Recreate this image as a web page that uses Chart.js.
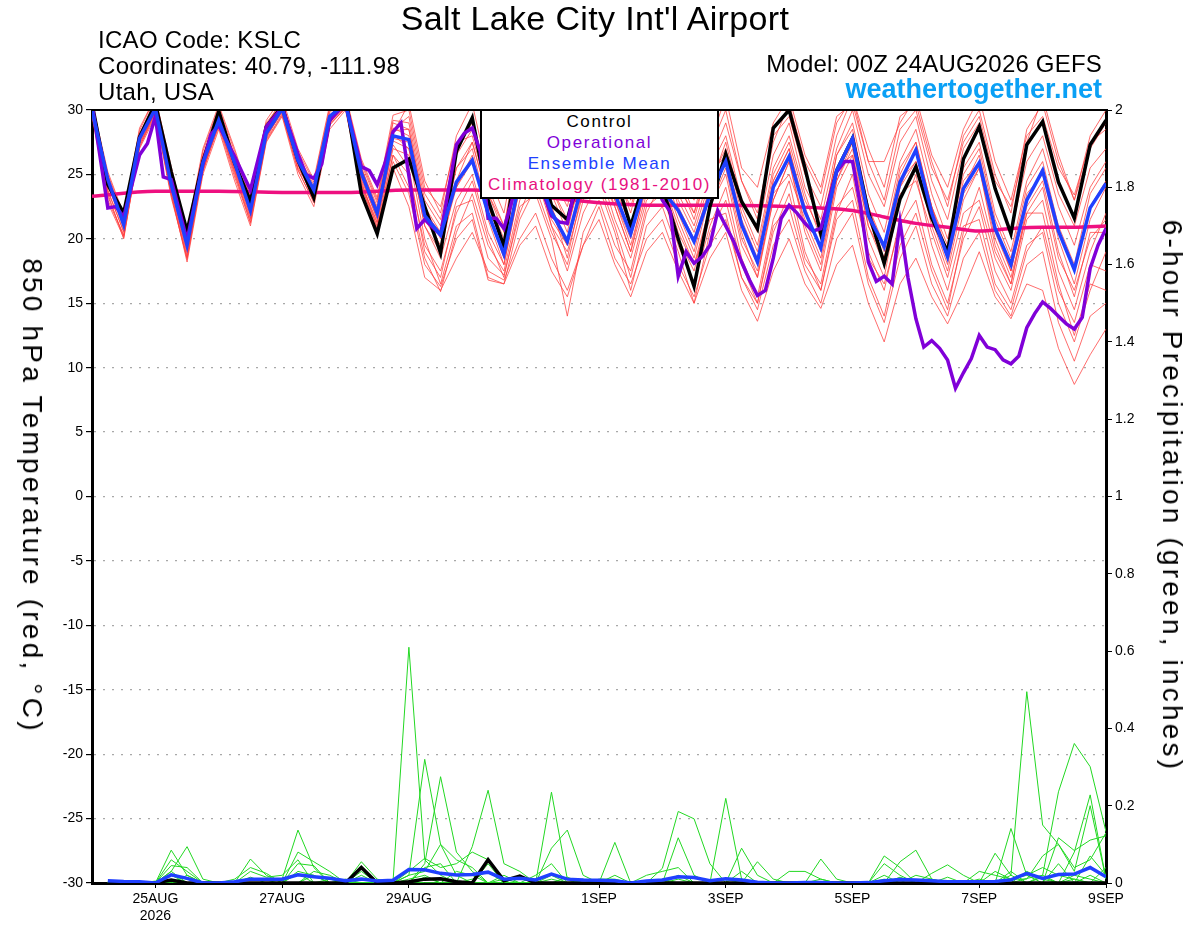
<!DOCTYPE html>
<html>
<head>
<meta charset="utf-8">
<script src="https://cdn.jsdelivr.net/npm/chart.js@4.4.1/dist/chart.umd.min.js"></script>
<style>
  body { margin: 0; background: #fff; }
  #wrap { position: relative; width: 1200px; height: 927px; font-family: "Liberation Sans", Arial, sans-serif; }
  #wrap div.txt { position: absolute; white-space: nowrap; line-height: 1; color: #000; }
  #legendBox {
    position: absolute; left: 480px; top: 109px; width: 239px; height: 90px;
    box-sizing: border-box; border: 2px solid #000; background: #fff;
    text-align: center; font-size: 17px; line-height: 21px; letter-spacing: 1.6px;
  }
  .rot { position: absolute; white-space: nowrap; font-size: 28px; line-height: 1; letter-spacing: 3.2px;
         transform: translate(-50%, -50%) rotate(90deg); }
</style>
</head>
<body>
<div id="wrap">
  <canvas id="myChart" width="1200" height="927"></canvas>
  <div class="txt" style="left:345px;width:500px;text-align:center;top:1px;font-size:34px;letter-spacing:0.35px;">Salt Lake City Int'l Airport</div>
  <div class="txt" style="left:98px;top:28px;font-size:24px;letter-spacing:0.3px;">ICAO Code: KSLC</div>
  <div class="txt" style="left:98px;top:54px;font-size:24px;letter-spacing:0.3px;">Coordinates: 40.79, -111.98</div>
  <div class="txt" style="left:98px;top:80px;font-size:24px;letter-spacing:0.3px;">Utah, USA</div>
  <div class="txt" style="right:98px;top:52px;font-size:24px;text-align:right;letter-spacing:0.2px;">Model: 00Z 24AUG2026 GEFS</div>
  <div class="txt" style="right:98px;top:76px;font-size:27px;font-weight:bold;color:#0aa0f5;text-align:right;">weathertogether.net</div>
  <div class="rot" style="left:32px;top:496px;">850 hPa Temperature (red, °C)</div>
  <div class="rot" style="left:1172px;top:496px;">6-hour Precipitation (green, inches)</div>
  <div id="legendBox">
    <div style="color:#000">Control</div>
    <div style="color:#8000d8">Operational</div>
    <div style="color:#2040ff">Ensemble Mean</div>
    <div style="color:#e8107f">Climatology (1981-2010)</div>
  </div>
</div>
<script>
// forecast hours from 00Z 24AUG2026, every 6 h
const forecastHours = [0,6,12,18,24,30,36,42,48,54,60,66,72,78,84,90,96,102,108,114,120,126,132,138,144,150,156,162,168,174,180,186,192,198,204,210,216,222,228,234,240,246,252,258,264,270,276,282,288,294,300,306,312,318,324,330,336,342,348,354,360,366,372,378,384];

const tickHours = [24, 72, 120, 192, 240, 288, 336, 384];
const tickLabels = [["25AUG", "2026"], "27AUG", "29AUG", "1SEP", "3SEP", "5SEP", "7SEP", "9SEP"];

// 850 hPa temperature (C)
const controlTemp = [30.5,24.2,22.0,27.9, 30.5,25.2,20.6,26.0, 29.9,25.9,22.9,28.7, 30.3,26.1,23.2,29.2, 31.0,23.5,20.4,25.5, 26.2,22.5,18.9,26.8, 29.4,23.0,19.4,28.0, 27.0,22.6,21.5,26.0, 27.0,25.0,21.0,25.0, 24.0,20.0,16.3,22.5, 26.6,22.9,20.8,28.6, 30.0,25.5,20.4,25.3, 27.8,22.1,18.1,23.1, 25.6,21.6,19.0,26.2, 28.7,23.9,20.4,27.3, 29.1,24.4,21.6,27.3, 29.2];
const meanTemp = [30.0,24.6,21.1,27.8, 30.1,24.2,19.5,25.9, 29.2,25.9,22.2,28.2, 30.1,26.1,23.8,29.5, 30.5,25.1,22.0,28.0, 27.7,21.8,20.3,24.4, 26.1,22.0,18.8,24.5, 25.5,22.1,19.8,24.5, 25.5,23.5,20.4,24.5, 23.8,22.2,19.8,23.4, 26.0,21.1,18.2,24.0, 26.4,22.1,19.3,25.3, 27.8,21.8,19.4,24.4, 26.9,22.0,18.6,23.9, 25.9,20.8,18.0,23.0, 25.3,20.6,17.6,22.4, 24.3];

const opHours = [0,6,9,12,18,21,24,27,30,36,42,45,48,54,60,66,72,78,81,84,87,90,96,102,105,108,111,114,117,123,126,132,138,141,144,147,150,153,156,159,162,168,171,174,177,180,183,186,192,198,204,210,216,219,222,225,228,231,234,237,240,243,246,249,252,255,258,261,264,267,270,273,276,279,282,285,288,291,294,297,300,303,306,309,312,315,318,321,324,327,330,333,336,339,342,345,348,351,354,357,360,363,366,369,372,375,378,381,384];
const opTemp = [30.5,22.4,22.5,21.7,26.5,27.4,29.5,24.8,24.6,19.9,25.8,28.1,28.8,26.4,23.8,28.7,30.2,26.6,25.0,24.7,25.8,29.2,30.5,25.6,25.3,24.2,25.9,28.3,29.0,20.8,21.5,20.3,27.3,28.2,28.6,26.8,21.6,21.6,20.8,22.9,26.0,27.0,23.5,21.8,21.3,21.2,24.0,26.0,27.0,26.0,27.0,26.0,23.0,22.1,17.1,19.0,18.1,18.6,19.5,22.2,21.0,19.8,18.2,16.8,15.6,16.0,18.5,21.6,22.6,22.0,21.2,20.6,20.8,23.0,25.2,26.0,26.0,22.6,18.2,16.7,17.1,16.5,21.3,17.0,13.8,11.6,12.1,11.5,10.6,8.4,9.6,10.7,12.5,11.6,11.4,10.6,10.3,10.9,13.1,14.2,15.1,14.6,14.0,13.4,13.0,13.9,17.7,19.5,20.8];

const climHours = [0,24,48,72,96,120,144,168,192,216,240,264,276,288,300,312,324,336,348,360,372,384];
const climTemp = [23.3,23.7,23.7,23.6,23.6,23.8,23.8,23.3,22.8,22.6,22.6,22.5,22.4,22.2,21.7,21.2,20.9,20.6,20.8,20.9,20.9,21.0];

// ensemble members, 850 hPa temperature
const member01 = [30.5,24.0,21.5,28.0, 30.8,25.0,20.0,26.5, 30.0,26.5,22.5,28.8, 30.8,26.5,24.0,30.0, 31.0,25.5,22.5,28.5, 29.5,23.5,21.5,27.0, 29.0,24.0,21.0,27.5, 29.5,25.0,22.5,27.5, 28.5,25.5,22.0,27.0, 28.5,24.5,21.5,26.0, 29.0,24.5,21.5,27.5, 30.5,26.0,23.5,29.0, 31.0,27.0,24.0,29.5, 30.5,26.0,22.5,28.0, 30.0,25.0,22.0,28.5, 30.5,26.0,23.0,28.0, 30.0];
const member02 = [29.5,23.0,20.3,27.0, 29.5,23.5,18.2,25.0, 28.5,24.5,21.0,27.5, 29.5,25.0,22.5,28.5, 30.0,24.0,21.0,25.5, 22.5,17.0,16.0,18.5, 20.5,17.5,16.8,20.0, 22.0,18.5,16.0,19.5, 21.5,18.0,15.5,19.0, 20.5,17.5,15.0,18.5, 20.5,16.0,13.6,17.5, 20.0,16.5,14.6,18.0, 19.5,15.0,12.0,16.5, 18.5,15.5,13.4,16.0, 19.0,15.5,13.8,16.5, 16.0,11.5,8.7,11.0, 13.0];
const member03 = [30.0,23.8,20.5,27.5, 29.8,24.0,19.0,25.5, 29.0,25.0,21.5,27.8, 30.0,25.8,23.0,29.0, 30.2,24.5,20.8,26.5, 25.0,19.5,17.5,22.0, 24.5,20.0,17.0,22.5, 23.5,20.0,14.0,20.5, 23.0,19.5,17.5,22.5, 23.5,19.5,16.5,21.0, 24.0,18.5,15.5,21.5, 24.5,19.0,16.0,22.0, 25.0,18.5,16.5,21.0, 23.0,18.0,15.0,20.0, 22.5,17.5,15.0,19.5, 20.5,15.0,12.0,16.0, 19.0];
const member04 = [30.2,24.8,21.3,28.2, 30.5,24.5,19.8,26.2, 29.5,26.0,22.0,28.5, 30.5,26.5,24.2,29.8, 31.0,25.8,22.8,29.0, 28.5,22.5,20.5,25.5, 27.5,23.0,19.5,25.5, 27.0,23.5,20.5,26.0, 27.5,24.0,21.0,25.5, 26.0,23.0,20.5,24.5, 27.0,22.0,19.0,25.0, 27.5,23.0,20.5,26.5, 29.0,23.5,20.5,26.0, 28.5,23.5,20.0,25.5, 27.5,22.0,19.0,24.5, 27.0,22.5,19.5,24.0, 26.0];
const member05 = [30.0,24.5,21.0,27.6, 30.0,24.0,19.2,26.0, 29.3,26.2,22.4,28.4, 30.2,26.3,23.5,29.6, 30.8,25.3,22.2,28.2, 30.5,24.5,22.0,28.0, 30.5,25.0,22.0,28.5, 31.0,26.0,24.0,29.0, 30.0,26.5,23.0,28.0, 29.5,25.0,23.0,27.5, 31.0,25.5,24.0,29.0, 31.0,26.5,24.0,29.5, 30.5,26.0,26.0,29.0, 31.0,26.5,24.0,28.5, 31.0,26.0,23.0,28.0, 29.5,25.5,23.4,27.5, 28.5];
const member06 = [29.8,24.2,20.8,27.8, 29.8,23.8,18.8,25.2, 29.0,25.5,21.8,28.0, 29.8,25.5,23.5,29.0, 30.5,24.8,21.5,27.0, 26.5,20.0,16.5,21.0, 22.0,17.0,16.5,21.5, 24.0,20.5,18.0,23.0, 25.5,21.5,18.5,23.0, 24.0,20.0,17.5,22.5, 25.0,19.5,17.0,23.0, 26.0,20.5,17.5,24.0, 26.5,20.0,17.0,23.5, 24.5,20.5,17.0,22.0, 23.0,18.5,16.0,21.5, 23.0,17.5,14.5,19.0, 22.0];
const member07 = [30.3,24.6,21.6,28.0, 30.3,24.6,19.9,26.4, 29.6,25.6,22.6,28.5, 30.0,26.0,23.6,29.2, 30.6,25.6,21.9,28.6, 28.0,22.0,20.5,24.0, 26.0,22.5,19.5,26.0, 28.0,24.0,21.0,25.0, 26.5,23.0,19.5,24.0, 25.0,21.5,18.5,23.5, 26.5,21.0,18.0,24.5, 27.0,22.5,19.0,25.0, 28.0,22.5,19.5,25.5, 27.5,22.5,18.5,24.0, 26.5,21.0,17.5,23.5, 25.0,20.0,16.5,21.5, 24.0];
const member08 = [29.6,23.5,20.0,27.2, 29.6,23.2,18.5,25.5, 28.8,25.2,21.2,27.6, 29.6,25.4,22.8,28.8, 30.2,24.2,21.2,26.5, 24.0,18.5,15.9,20.5, 23.5,19.5,17.5,23.0, 26.0,21.0,19.0,23.5, 24.0,20.5,16.0,21.0, 22.5,19.0,15.0,20.5, 23.0,18.0,15.0,21.0, 22.5,18.0,16.0,21.5, 23.0,17.0,14.0,19.5, 22.0,17.5,14.5,20.5, 24.0,19.0,16.5,22.0, 22.0,16.5,12.5,16.5, 16.0];
const member09 = [30.4,25.0,21.8,28.4, 31.0,25.2,20.4,26.8, 30.2,26.8,23.0,29.0, 30.6,26.8,24.4,30.2, 31.0,26.0,23.0,29.2, 29.0,23.0,21.0,26.5, 28.5,23.5,20.5,27.0, 28.5,24.0,21.5,26.5, 29.0,25.0,22.5,26.5, 27.5,24.0,22.0,25.5, 28.0,23.0,20.5,26.5, 29.0,24.0,21.5,27.0, 30.0,25.0,22.5,27.5, 29.5,24.5,21.5,27.0, 29.0,24.0,20.5,26.0, 28.0,23.5,21.0,25.5, 27.0];
const member10 = [29.9,23.3,20.2,27.3, 29.9,24.4,19.4,25.7, 29.4,25.4,21.9,28.1, 30.1,26.1,23.3,29.4, 30.4,24.6,21.6,27.6, 27.0,21.0,18.5,23.0, 25.0,20.5,18.0,24.0, 25.0,21.5,19.5,24.0, 26.0,22.5,19.0,24.5, 27.0,22.5,20.0,24.0, 26.0,20.5,17.0,23.5, 25.0,21.5,18.5,24.5, 27.0,21.0,18.0,24.0, 26.0,21.0,17.5,23.0, 25.5,19.5,16.5,22.5, 24.5,19.0,15.5,20.5, 20.5];
const member11 = [30.1,24.9,21.4,28.0, 30.3,24.9,19.6,26.1, 29.8,26.0,22.3,28.3, 30.3,26.2,23.9,29.6, 30.7,25.4,22.3,28.4, 28.5,22.5,20.0,25.5, 27.0,22.0,18.5,25.0, 26.5,22.5,19.5,25.0, 26.5,23.5,20.5,25.5, 25.5,22.0,19.0,24.0, 27.5,22.5,19.5,25.5, 28.0,23.5,20.0,26.5, 28.5,22.5,19.0,25.0, 27.5,22.5,19.5,25.0, 27.0,21.5,18.5,24.0, 26.0,21.0,18.0,23.5, 25.5];
const member12 = [29.7,23.7,20.6,27.4, 29.7,23.6,18.6,25.3, 28.9,25.3,21.6,27.9, 29.9,25.7,23.1,29.1, 30.3,24.3,21.3,27.3, 25.5,19.0,17.0,22.5, 23.0,18.5,17.2,22.0, 25.0,21.0,17.5,22.0, 24.5,21.0,17.0,22.0, 24.5,20.5,18.0,21.5, 22.0,17.0,15.0,20.5, 23.5,18.5,16.5,22.5, 24.0,19.0,16.0,21.5, 25.0,19.5,16.0,21.0, 21.5,16.5,14.5,19.0, 21.0,16.0,13.5,18.0, 17.5];
const member13 = [30.6,25.2,21.9,28.6, 31.0,25.6,20.6,27.0, 30.4,27.0,23.2,29.2, 31.0,27.0,24.6,30.4, 31.2,26.2,23.2,29.6, 30.0,24.0,22.5,27.5, 28.0,23.5,21.0,26.5, 30.0,25.5,23.0,28.5, 29.5,26.0,23.5,28.5, 29.0,25.0,22.0,27.0, 30.0,24.5,22.0,28.0, 29.5,25.0,22.5,28.0, 31.0,26.0,23.0,28.5, 30.0,25.5,23.0,27.5, 29.5,24.5,22.5,27.5, 31.0,26.5,23.0,27.0, 29.0];
const member14 = [30.0,24.3,21.0,27.7, 30.1,24.1,19.3,25.8, 29.1,25.7,22.0,28.1, 30.0,25.9,23.6,29.3, 30.4,25.0,21.8,27.8, 27.5,21.5,19.5,24.0, 26.5,21.5,18.0,24.0, 26.0,22.0,19.5,24.5, 25.0,22.5,19.0,23.5, 24.5,21.0,18.0,22.5, 25.5,20.0,17.5,23.0, 26.0,21.0,18.0,24.5, 27.5,21.5,18.5,24.5, 26.0,21.5,18.0,23.5, 25.5,20.0,17.0,22.0, 24.0,18.5,16.0,20.0, 21.5];
const member15 = [30.2,24.4,21.2,27.9, 30.2,24.3,19.6,26.0, 29.3,25.8,22.2,28.3, 30.2,26.0,23.7,29.4, 30.5,25.2,22.0,28.1, 27.0,21.0,19.0,24.5, 27.5,23.0,20.0,26.0, 27.0,22.5,18.5,24.0, 26.0,23.0,20.0,25.0, 27.0,23.5,21.0,25.0, 26.5,21.5,18.5,24.5, 27.0,22.0,19.5,25.5, 26.5,21.0,18.5,24.0, 27.0,22.5,19.0,24.5, 26.0,20.5,17.5,23.0, 25.5,20.5,17.5,22.5, 24.5];
const member16 = [29.8,22.8,20.1,27.1, 29.9,23.4,18.4,25.3, 28.7,24.8,21.3,27.7, 29.7,25.3,22.9,28.9, 30.1,24.1,20.6,26.0, 23.5,18.0,16.3,20.0, 21.5,16.8,16.5,19.5, 21.0,17.5,15.5,19.5, 22.5,18.5,16.5,20.0, 21.5,18.0,15.5,19.5, 21.5,17.0,14.5,19.5, 21.5,17.5,15.0,20.0, 22.0,16.5,13.5,18.5, 21.0,16.5,14.0,18.5, 20.5,16.0,14.0,18.0, 19.0,13.5,10.5,14.0, 15.0];
const tempMembers = [member01, member02, member03, member04, member05, member06, member07, member08,
                     member09, member10, member11, member12, member13, member14, member15, member16];

// 6-hour precipitation (inches)
const controlPrecip = [null, 0,0,0,0, 0.008,0,0,0, 0,0,0,0, 0,0,0,0, 0.04,0,0,0.003, 0.01,0.011,0.003,0, 0.06,0.006,0.018,0, 0,0,0,0, 0,0,0,0, 0,0,0,0, 0,0,0,0, 0,0,0,0, 0,0,0,0, 0,0,0,0, 0,0,0,0, 0,0,0,0];
const meanPrecip = [null, 0.006,0.004,0.003,0, 0.021,0.012,0,0, 0.003,0.01,0.01,0.01, 0.021,0.016,0.012,0.006, 0.01,0.005,0.007,0.035, 0.034,0.025,0.021,0.022, 0.028,0.01,0.012,0.008, 0.023,0.01,0.008,0.007, 0.006,0,0.005,0.008, 0.016,0.014,0.006,0.011, 0.008,0.002,0,0, 0.001,0.001,0,0, 0.001,0.006,0.009,0.008, 0.006,0.003,0.003,0.003, 0.004,0.008,0.025,0.012, 0.022,0.023,0.04,0.016];

const precip01 = [null, 0,0,0,0, 0.085,0.02,0,0, 0,0,0,0.01, 0.137,0.04,0,0, 0,0,0.005,0.61, 0.06,0.02,0,0, 0,0,0,0, 0,0,0,0, 0.105,0,0,0, 0,0,0,0, 0,0,0,0, 0,0,0,0, 0,0,0,0, 0,0,0,0, 0,0.02,0.495,0.15, 0.10,0.04,0.06,0.13];
const precip02 = [null, 0,0,0,0, 0.03,0.094,0.01,0, 0,0.062,0.02,0, 0,0,0,0, 0,0,0,0.02, 0.32,0.1,0.02,0, 0,0,0,0, 0,0,0,0, 0,0,0,0.038, 0.185,0.166,0.05,0, 0,0,0,0, 0,0,0,0, 0,0,0,0, 0,0,0,0, 0,0,0,0.02, 0.236,0.361,0.301,0.133];
const precip03 = [null, 0,0,0,0, 0.06,0.03,0,0, 0,0,0,0, 0.08,0.055,0.03,0, 0,0,0,0, 0.05,0.275,0.08,0.03, 0,0,0,0, 0.235,0.01,0,0, 0,0,0,0, 0,0,0,0.219, 0.01,0,0,0, 0,0,0,0, 0,0,0,0, 0,0,0,0, 0.077,0.02,0,0, 0,0.08,0.228,0.01];
const precip04 = [null, 0,0,0,0, 0,0,0,0, 0.01,0.04,0.025,0, 0,0,0,0, 0.055,0.01,0,0, 0,0,0,0.094, 0.24,0.05,0.03,0, 0.09,0.137,0.02,0, 0,0,0,0, 0.117,0.02,0,0, 0.09,0.02,0,0, 0,0,0,0, 0,0.07,0.04,0, 0,0,0,0, 0,0.141,0.02,0, 0.117,0.084,0.111,0.122];
const precip05 = [null, 0,0,0,0, 0.045,0.04,0,0, 0,0,0,0, 0.05,0.045,0,0, 0,0,0,0.03, 0.064,0.04,0.05,0.08, 0.06,0,0,0, 0,0,0,0.01, 0.01,0,0,0, 0,0,0,0, 0,0.055,0.01,0, 0,0.062,0.01,0, 0,0,0.055,0.085, 0.01,0,0,0.03, 0.02,0.01,0.01,0.07, 0.1,0.03,0.2,0.01];
const precip06 = [null, 0,0,0,0, 0.03,0,0,0, 0,0.03,0.015,0.02, 0.06,0,0,0.01, 0,0,0,0.02, 0.03,0.1,0.06,0.04, 0,0,0,0.02, 0.05,0,0,0, 0,0,0.02,0.03, 0.04,0,0,0, 0,0,0,0.03, 0.03,0.01,0,0, 0,0.05,0.02,0, 0.025,0.047,0.02,0, 0.03,0.01,0.02,0.04, 0.02,0.01,0,0];
const precip07 = [null, 0,0,0.003,0, 0.02,0.01,0,0, 0,0,0,0, 0.03,0.02,0,0, 0.02,0,0,0.01, 0.02,0,0,0, 0.05,0,0.02,0, 0.02,0,0,0, 0,0,0,0, 0.02,0,0,0, 0.03,0,0,0, 0,0,0,0, 0,0,0,0.02, 0.01,0,0,0, 0,0,0.03,0.01, 0,0,0.02,0];
const precip08 = [null, 0,0,0,0.005, 0,0,0,0, 0,0,0,0, 0,0.03,0.02,0, 0,0,0,0.005, 0,0,0.03,0.02, 0,0.02,0,0, 0,0,0.01,0, 0.02,0,0,0.01, 0,0,0,0, 0,0,0,0, 0,0,0,0, 0,0.02,0,0, 0,0.015,0,0, 0,0,0,0.015, 0,0.01,0,0.04];
const precip09 = [null, 0,0,0,0, 0.02,0,0,0, 0,0,0,0, 0.025,0,0.01,0, 0,0,0,0, 0.015,0,0,0.01, 0.03,0,0,0, 0,0.015,0,0, 0,0,0,0, 0.01,0,0,0, 0,0,0,0, 0,0.01,0,0, 0,0,0.015,0, 0,0,0,0, 0,0,0.012,0.02, 0,0.02,0.01,0];
const precip10 = [null, 0,0,0,0, 0,0.02,0,0, 0,0.015,0,0, 0,0.02,0,0, 0.03,0,0,0, 0.04,0.05,0,0, 0,0.01,0,0, 0.01,0,0,0.005, 0,0,0,0, 0,0,0,0.01, 0,0,0,0, 0,0,0,0, 0,0.01,0,0, 0,0,0,0.01, 0,0.03,0,0, 0.05,0,0.07,0.02];
const precipMembers = [precip01, precip02, precip03, precip04, precip05, precip06, precip07, precip08, precip09, precip10];

Chart.defaults.font.family = "'Liberation Sans', Arial, sans-serif";
Chart.defaults.color = "#000";

const frame = {
  id: "frame",
  afterDraw(chart) {
    const { ctx, chartArea: a } = chart;
    ctx.save();
    ctx.strokeStyle = "#000";
    ctx.lineWidth = 2;
    ctx.beginPath();
    ctx.moveTo(a.left, a.top);
    ctx.lineTo(a.right, a.top);
    ctx.stroke();
    ctx.restore();
  }
};

function thick(data, color, axis) {
  return { data, borderColor: color, borderWidth: 3.5, yAxisID: axis, pointRadius: 0, fill: false, tension: 0 };
}

const datasets = [
  thick(meanTemp, "#2040ff", "y"),
  thick(opHours.map((h, i) => ({ x: h, y: opTemp[i] })), "#8000d8", "y"),
  thick(controlTemp, "#000000", "y"),
  Object.assign(thick(climHours.map((h, i) => ({ x: h, y: climTemp[i] })), "#ee1080", "y"), { cubicInterpolationMode: "monotone" }),
  thick(meanPrecip, "#2040ff", "y1"),
  thick(controlPrecip, "#000000", "y1")
];
tempMembers.forEach(m => datasets.push({ data: m, borderColor: "rgba(255,60,60,0.75)", borderWidth: 1, yAxisID: "y", pointRadius: 0, tension: 0 }));
precipMembers.forEach(m => datasets.push({ data: m, borderColor: "#22d822", borderWidth: 1, yAxisID: "y1", pointRadius: 0, tension: 0 }));

new Chart(document.getElementById("myChart"), {
  type: "line",
  data: { labels: forecastHours, datasets },
  plugins: [frame],
  options: {
    responsive: false,
    animation: false,
    layout: { padding: { top: 110, left: 0, right: 0, bottom: 0 } },
    plugins: { legend: { display: false }, tooltip: { enabled: false } },
    scales: {
      x: {
        type: "linear",
        min: 0,
        max: 384,
        afterBuildTicks: scale => { scale.ticks = tickHours.map(v => ({ value: v })); },
        afterFit: scale => { scale.height = 44; },
        ticks: {
          autoSkip: false,
          maxRotation: 0,
          padding: 3,
          font: { size: 14 },
          callback: (value, index) => tickLabels[index]
        },
        grid: { drawOnChartArea: false, tickLength: 5, tickColor: "#000", color: "#000" },
        border: { width: 3, color: "#000" }
      },
      y: {
        position: "left",
        min: -30,
        max: 30,
        afterFit: scale => { scale.width = 92; },
        ticks: { stepSize: 5, padding: 3, font: { size: 14 } },
        grid: { color: "#a8a8a8", lineWidth: 1.2, tickLength: 6, tickColor: "#000" },
        border: { width: 3, color: "#000", dash: [2, 7] }
      },
      y1: {
        position: "right",
        min: 0,
        max: 2,
        afterFit: scale => { scale.width = 94; },
        ticks: { stepSize: 0.2, padding: 3, font: { size: 14 }, callback: v => String(Math.round(v * 10) / 10) },
        grid: { drawOnChartArea: false, tickLength: 6, tickColor: "#000" },
        border: { width: 3, color: "#000" }
      }
    }
  }
});
</script>
</body>
</html>
